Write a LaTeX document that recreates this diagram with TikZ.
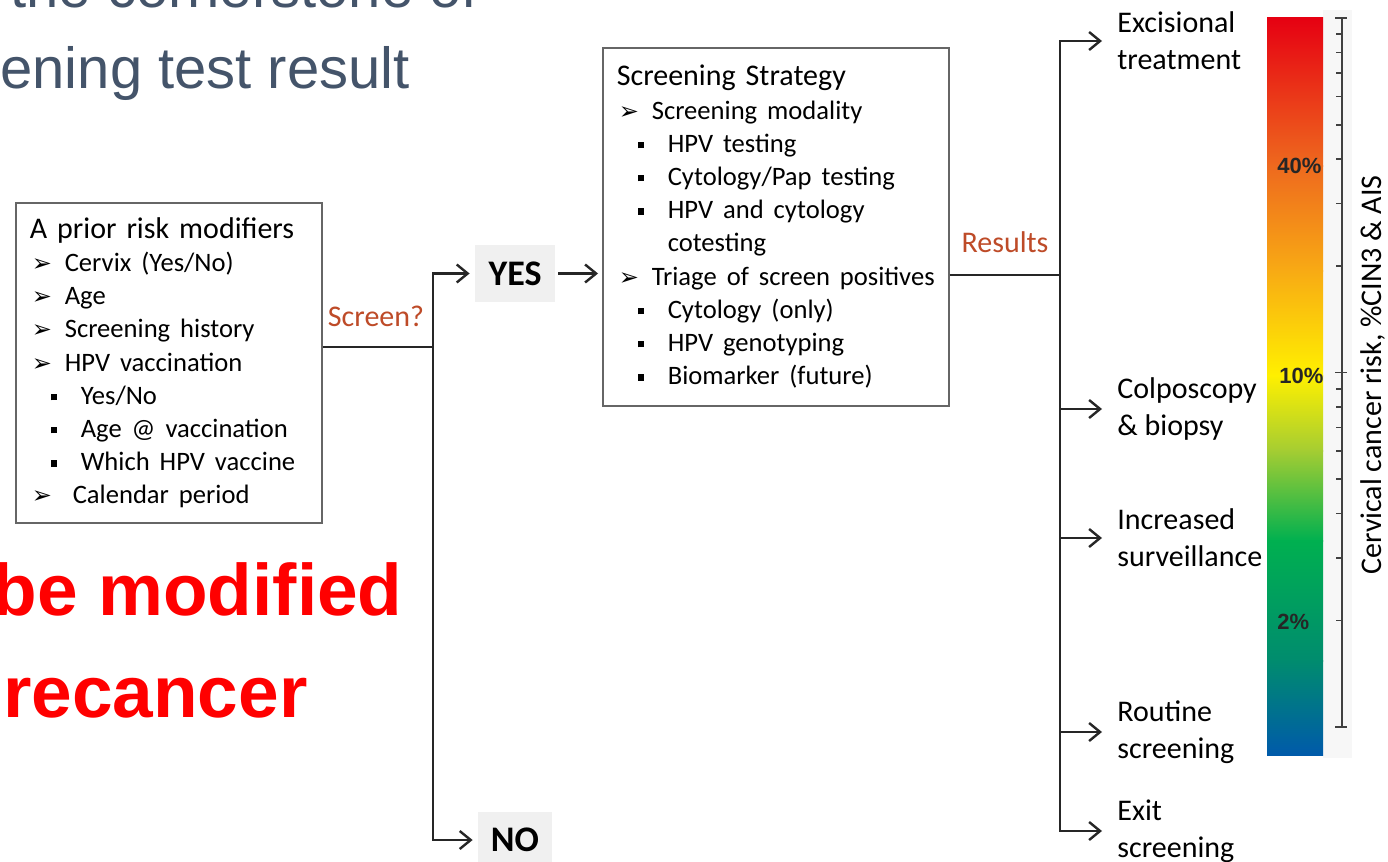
\documentclass[tikz,border=0pt]{standalone}
\usepackage{fontspec}
\setmainfont{Carlito}
\newfontfamily\slidefont{Liberation Sans}
\newfontfamily\symfont{DejaVu Sans}
\usetikzlibrary{arrows.meta}
\definecolor{slideblue}{RGB}{68,84,106}
\definecolor{labelred}{RGB}{190,75,40}
\definecolor{barRed}{RGB}{230,0,18}
\definecolor{barOrange}{RGB}{238,105,30}
\definecolor{barAmber}{RGB}{248,170,20}
\definecolor{barYellow}{RGB}{255,240,0}
\definecolor{barLime}{RGB}{165,205,50}
\definecolor{barGreen}{RGB}{0,176,80}
\definecolor{barTeal}{RGB}{0,140,110}
\definecolor{barBlue}{RGB}{0,90,170}
\newcommand{\itemfont}{\fontsize{13.3}{16.6}\selectfont}
\newcommand{\arrowitem}[1]{{\hspace*{1pt}\makebox[16.5pt][l]{\symfont\fontsize{12}{12}\selectfont ➢}\itemfont #1}}
\newcommand{\squareitem}[1]{{\hspace*{10.5pt}\makebox[15pt][l]{\rule[2pt]{3.2pt}{3.2pt}}\itemfont #1}}
\tikzstyle{listbox} = [draw=black!60, line width=0.8pt, align=left, inner xsep=7pt, font=\fontsize{15}{16.6}\selectfont]
\tikzstyle{answer} = [fill=black!6, inner sep=0pt, font=\bfseries\fontsize{18}{18}\selectfont]
\tikzstyle{outcome} = [align=left, anchor=west, inner xsep=7.5pt, font=\fontsize{15}{18.5}\selectfont]
\tikzstyle{cue} = [text=labelred, anchor=base, font=\fontsize{15}{15}\selectfont]
\tikzstyle{pct} = [anchor=west, inner sep=0pt, text=black!85, font=\slidefont\bfseries\fontsize{11}{11}\selectfont]
\tikzstyle{flow} = [draw=black!85, line width=1.2pt]
\tikzstyle{arrow} = [flow, -{Straight Barb[length=5.5pt,width=9pt]}]

\begin{document}
\begin{tikzpicture}[x=0.5pt, y=-0.5pt]
\useasboundingbox (0,0) rectangle (1388,862);
\fill[white] (0,0) rectangle (1388,862);
\clip (0,0) rectangle (1388,862);

\node[anchor=base west, inner sep=0pt, text=slideblue, font=\slidefont\fontsize{29}{29}\selectfont] (head1) at (10,8) {the cornerstone of};
\node[anchor=base west, inner sep=0pt, text=slideblue, font=\slidefont\fontsize{29}{29}\selectfont] (head2) at (0,88) {ening test result};
\node[anchor=base east, inner sep=0pt, text=red, font=\slidefont\bfseries\fontsize{36.5}{36.5}\selectfont] (red1) at (403,615) {be modified};
\node[anchor=base east, inner sep=0pt, text=red, font=\slidefont\bfseries\fontsize{36.5}{36.5}\selectfont] (red2) at (308,717) {recancer};

\node[listbox, anchor=north west, minimum width=153pt, minimum height=160pt, text width=139pt] (prior) at (15,202) {A prior risk modifiers\\
\arrowitem{Cervix (Yes/No)}\\
\arrowitem{Age}\\
\arrowitem{Screening history}\\
\arrowitem{HPV vaccination}\\
\squareitem{Yes/No}\\
\squareitem{Age @ vaccination}\\
\squareitem{Which HPV vaccine}\\
\arrowitem{\hspace*{4pt}Calendar period}};

\node[listbox, anchor=north west, minimum width=173pt, minimum height=179pt, text width=159pt] (strat) at (602,47) {Screening Strategy\\
\arrowitem{Screening modality}\\
\squareitem{HPV testing}\\
\squareitem{Cytology/Pap testing}\\
\squareitem{HPV and cytology}\\
{\hspace*{25.5pt}\itemfont cotesting}\\
\arrowitem{Triage of screen positives}\\
\squareitem{Cytology (only)}\\
\squareitem{HPV genotyping}\\
\squareitem{Biomarker (future)}};

\node[answer, minimum width=40pt, minimum height=28.5pt] (yes) at (515,273.5) {YES};
\node[answer, minimum width=37pt, minimum height=28pt] (no) at (515,840) {NO};
\node[cue] (screenq) at (376,326) {Screen?};
\node[cue] (results) at (1005,252) {Results};

\node[outcome] (exc) at (1102,41) {Excisional\\treatment};
\node[outcome] (colpo) at (1102,409) {Colposcopy\\\& biopsy};
\node[outcome] (surv) at (1102,538) {Increased\\surveillance};
\node[outcome] (routine) at (1102,732) {Routine\\screening};
\node[outcome] (exit) at (1102,831) {Exit\\screening};

\coordinate (split) at (433,347);
\coordinate (fork) at (1060,275);
\draw[flow] (prior.east |- split) -- (split);
\draw[arrow, shorten >=2.5pt] (split) |- (yes.west);
\draw[arrow, shorten >=2.5pt] (split) |- (no.west);
\draw[arrow, shorten <=1.5pt, shorten >=2pt] (yes.east) -- (yes.east -| strat.west);
\draw[flow] (strat.east |- fork) -- (fork);
\foreach \n in {exc,colpo,surv,routine,exit}
  \draw[arrow] (fork) |- (\n.west);

\fill[black!3] (1323,10) rectangle (1352,758);
\shade[top color=barRed, bottom color=barOrange] (1267,17) rectangle (1323,166);
\shade[top color=barOrange, bottom color=barAmber] (1267,165) rectangle (1323,271);
\shade[top color=barAmber, bottom color=barYellow] (1267,270) rectangle (1323,376);
\shade[top color=barYellow, bottom color=barLime] (1267,375) rectangle (1323,451);
\shade[top color=barLime, bottom color=barGreen] (1267,450) rectangle (1323,541);
\shade[top color=barGreen, bottom color=barTeal] (1267,540) rectangle (1323,661);
\shade[top color=barTeal, bottom color=barBlue] (1267,660) rectangle (1323,755);
\draw[black!75, line width=0.8pt] (1342,{727-354.5*2}) -- (1342,727);
\foreach \v in {2,...,9,20,30,...,90}
  \draw[black!75, line width=0.8pt] (1336,{727-354.5*log10(\v)}) -- (1342,{727-354.5*log10(\v)});
\foreach \v in {1,10,100}
  \draw[black!75, line width=0.8pt] (1335,{727-354.5*log10(\v)}) -- (1347,{727-354.5*log10(\v)});
\node[pct] (p40) at (1277,166) {40\%};
\node[pct] (p10) at (1279,376) {10\%};
\node[pct] (p2) at (1277,622) {2\%};
\node[rotate=90, font=\fontsize{15}{15}\selectfont] (risk) at (1373,375) {Cervical cancer risk, \%CIN3 \& AIS};
\end{tikzpicture}
\end{document}
